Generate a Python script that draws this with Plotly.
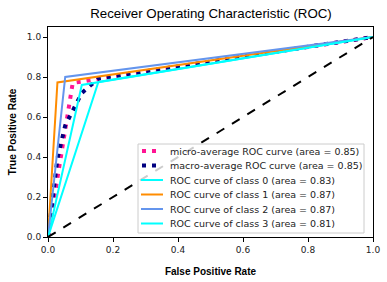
import plotly.graph_objects as go

# Data (FPR, TPR points)
micro_fpr = [0.0, 0.076, 1.0]
micro_tpr = [0.0, 0.77, 1.0]
macro_fpr = [0.0, 0.029, 0.053, 0.104, 0.155, 1.0]
macro_tpr = [0.0, 0.392, 0.558, 0.720, 0.793, 1.0]
class_fpr = [[0.0, 0.104, 1.0], [0.0, 0.029, 1.0], [0.0, 0.053, 1.0], [0.0, 0.155, 1.0]]
class_tpr = [[0.0, 0.76, 1.0], [0.0, 0.773, 1.0], [0.0, 0.80, 1.0], [0.0, 0.775, 1.0]]
class_auc = [0.83, 0.87, 0.87, 0.81]
micro_auc = 0.85
macro_auc = 0.85
class_colors = ["#00FFFF", "#FF8C00", "#6495ED", "#00FFFF"]
diag = [0.0, 1.0]
tick_vals = [0, 0.2, 0.4, 0.6, 0.8, 1.0]
tick_text = ["0.0", "0.2", "0.4", "0.6", "0.8", "1.0"]

DOT = "4px,6px"

entries = [
    dict(name=f"micro-average ROC curve (area = {micro_auc:.2f})", color="#FF1493", width=4, dash=DOT,
         x=micro_fpr, y=micro_tpr),
    dict(name=f"macro-average ROC curve (area = {macro_auc:.2f})", color="#000080", width=4, dash=DOT,
         x=macro_fpr, y=macro_tpr),
]
for i in range(4):
    entries.append(dict(name=f"ROC curve of class {i} (area = {class_auc[i]:.2f})",
                        color=class_colors[i], width=2, dash="solid",
                        x=class_fpr[i], y=class_tpr[i]))

fig = go.Figure()
for e in entries:
    fig.add_trace(go.Scatter(x=e["x"], y=e["y"], mode="lines", name=e["name"],
                             line=dict(color=e["color"], width=e["width"], dash=e["dash"]),
                             showlegend=False))
fig.add_trace(go.Scatter(x=diag, y=diag, mode="lines",
                         line=dict(color="black", width=2, dash="dash"),
                         showlegend=False))

# Custom compact legend (matplotlib-like spacing)
L, T, W, H = 48, 27, 325, 210   # plot area in pixels
def px(xp):
    return (xp - L) / W
def py(yp):
    return (T + H - yp) / H

shapes = [dict(type="rect", xref="paper", yref="paper",
               x0=px(138), x1=px(364), y0=py(233), y1=py(144),
               fillcolor="rgba(255,255,255,0.8)", line=dict(color="#cccccc", width=1),
               layer="above")]
annotations = []
for k, e in enumerate(entries):
    yc = 151 + 14.5 * k
    if e["dash"] == DOT:
        for xd in (144, 154):
            shapes.append(dict(type="rect", xref="paper", yref="paper",
                               x0=px(xd - 2), x1=px(xd + 2), y0=py(yc + 2), y1=py(yc - 2),
                               fillcolor=e["color"], line=dict(width=0), layer="above"))
    else:
        shapes.append(dict(type="line", xref="paper", yref="paper",
                           x0=px(141), x1=px(163), y0=py(yc), y1=py(yc),
                           line=dict(color=e["color"], width=e["width"]), layer="above"))
    annotations.append(dict(text=e["name"], xref="paper", yref="paper",
                            x=px(168), y=py(yc), xanchor="left", yanchor="middle",
                            showarrow=False,
                            font=dict(family="DejaVu Sans", size=9.5, color="#222")))

fig.update_layout(
    width=387, height=282,
    margin=dict(l=L, r=387 - L - W, t=T, b=282 - T - H),
    plot_bgcolor="white", paper_bgcolor="white",
    showlegend=False,
    title=dict(text="Receiver Operating Characteristic (ROC)", x=(211) / 387, xanchor="center",
               y=1 - 13 / 282, yanchor="middle",
               font=dict(family="Liberation Sans, Arial", size=13.3, color="black")),
    xaxis=dict(range=[0, 1], tickvals=tick_vals, ticktext=tick_text, automargin=False,
               showgrid=False, zeroline=False, showline=True, linecolor="black", linewidth=1,
               mirror=True, ticks="outside", ticklen=4, tickcolor="black",
               tickfont=dict(family="DejaVu Sans", size=9, color="#222"),
               title=dict(text="<b>False Positive Rate</b>", standoff=14,
                          font=dict(family="Liberation Sans, Arial", size=10, color="black"))),
    yaxis=dict(range=[0, 1.05], tickvals=tick_vals, ticktext=tick_text, automargin=False,
               showgrid=False, zeroline=False, showline=True, linecolor="black", linewidth=1,
               mirror=True, ticks="outside", ticklen=4, tickcolor="black",
               tickfont=dict(family="DejaVu Sans", size=9, color="#222"),
               title=dict(text="<b>True Positive Rate</b>", standoff=8,
                          font=dict(family="Liberation Sans, Arial", size=10, color="black"))),
    shapes=shapes,
    annotations=annotations,
)

fig.write_html("out.html", config={"displayModeBar": False},
               post_script="document.body.style.margin='0';")
